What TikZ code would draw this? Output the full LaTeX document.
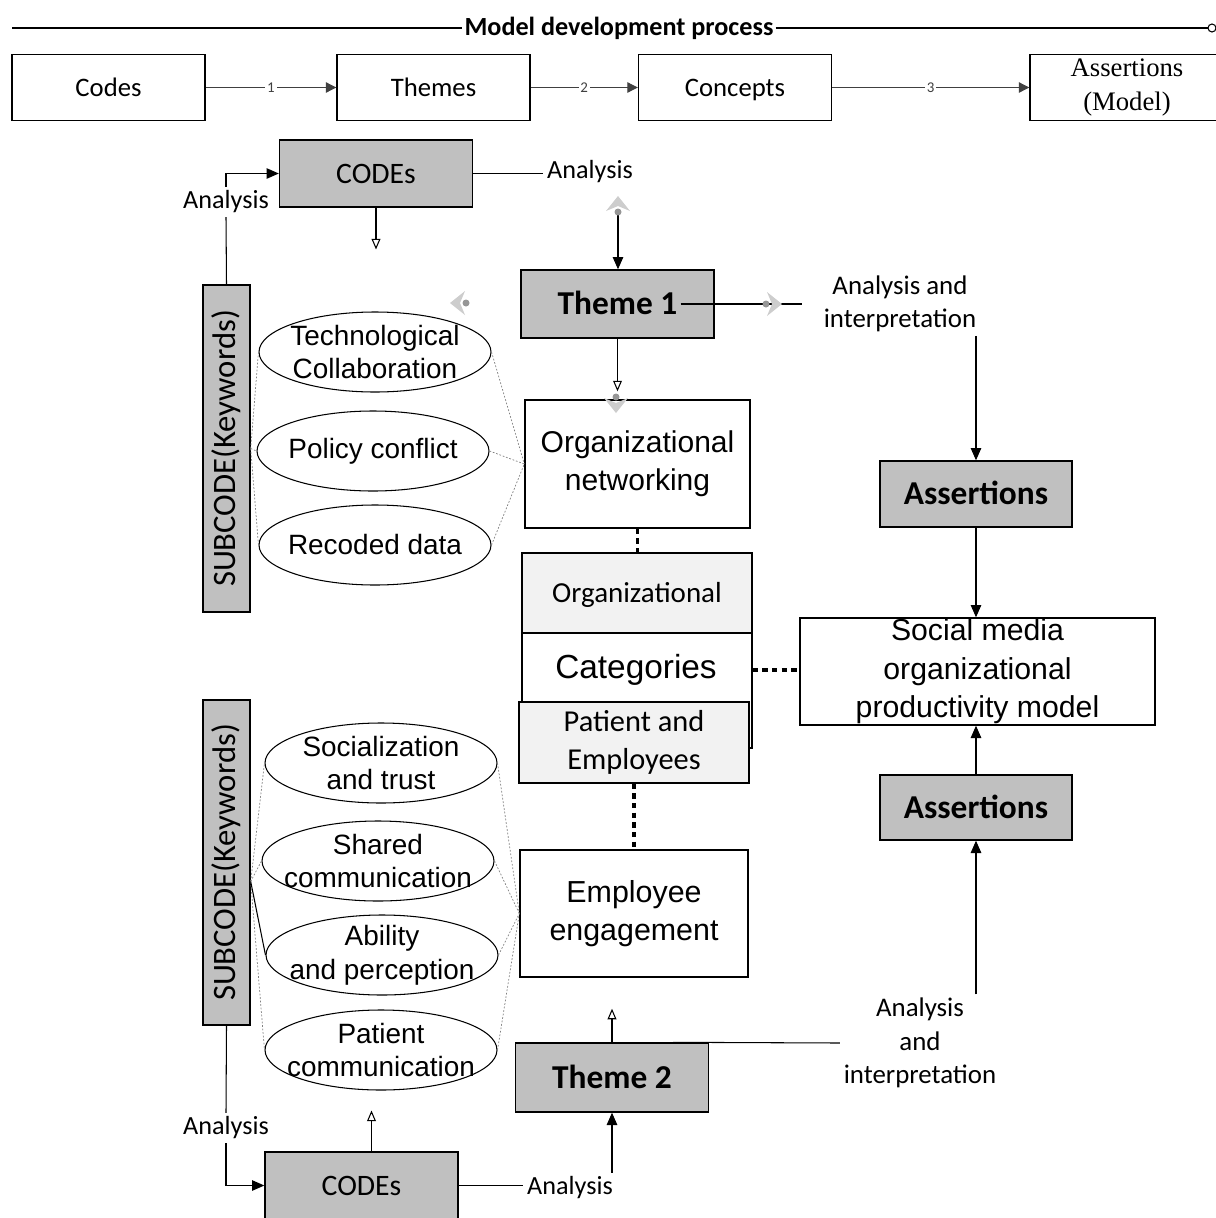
\documentclass[tikz,border=0pt]{standalone}
\usepackage{fontspec}
\setmainfont{Carlito}
\newfontfamily\arialfont{Liberation Sans}
\newfontfamily\timesfont{Liberation Serif}
\usetikzlibrary{arrows.meta,shapes.geometric}
\definecolor{boxgrey}{RGB}{192,192,192}
\definecolor{lightbox}{RGB}{242,242,242}
\definecolor{handlegrey}{RGB}{205,205,205}
\definecolor{handledot}{RGB}{150,150,150}
\newdimen\pxu \pxu=0.02cm
\newcommand\fsz[2]{\fontsize{#1}{#2}\selectfont}
\newcommand\connhandle[2]{\begin{scope}[shift={#1},rotate=#2]
  \fill[handlegrey] (0,0) -- (-15,12) -- (-10,0) -- (-15,-12) -- cycle;
  \fill[handledot] (-16,0) circle (3.5);
\end{scope}}

\begin{document}
\begin{tikzpicture}[x=0.02cm,y=-0.02cm]
\tikzset{box/.style={draw,line width=0.8pt,minimum width=193\pxu,minimum height=66\pxu,inner sep=0pt,align=center}}
\tikzset{greybox/.style={box,fill=boxgrey}}
\tikzset{oneline/.style={text height=#1,text depth=0pt}}
\tikzset{keyword/.style={ellipse,draw,line width=0.6pt,minimum width=232\pxu,minimum height=80\pxu,inner sep=-9pt,align=center,font=\arialfont\fsz{15.9}{19.3}}}
\tikzset{note/.style={inner sep=2pt,align=center,font=\fsz{14.9}{18.8}}}
\tikzset{plain/.style={line width=0.6pt}}
\tikzset{arr/.style={plain,-{Triangle[length=7pt,width=6pt]}}}
\tikzset{openarr/.style={plain,-{Triangle[open,length=6pt,width=5pt]}}}
\tikzset{steparr/.style={line width=0.6pt,black!75,-{Triangle[length=6pt,width=6pt]}}}
\tikzset{stepnum/.style={fill=white,inner sep=1pt,font=\fsz{8.5}{9}}}
\tikzset{link/.style={line width=2.2pt,dash pattern=on 3pt off 2.5pt}}
\tikzset{fan/.style={gray,line width=0.4pt,dash pattern=on 1pt off 1pt}}
\useasboundingbox (0,0) rectangle (1215,1218);

\node[font=\bfseries\fsz{14.9}{18},inner sep=1pt] (proc) at (619,28) {Model development process};
\coordinate (procstart) at (12,28);
\coordinate (procend) at (1208,28);
\draw[line width=0.8pt] (procstart) -- (proc.west) (proc.east) -- (procend);
\draw[line width=0.6pt] (procend) ++(4,0) circle (4);

\node[box,oneline=10pt,font=\fsz{15.2}{19}] (codes) at (108.5,87.5) {Codes};
\node[box,oneline=10pt,font=\fsz{15.2}{19}] (themes) at (433.5,87.5) {Themes};
\node[box,oneline=10pt,font=\fsz{15.2}{19}] (concepts) at (735,87.5) {Concepts};
\node[box,minimum width=194\pxu,font=\timesfont\fsz{15.2}{19.3}] (assertm) at (1127,87.5) {Assertions\\(Model)};
\foreach \a/\b/\n in {codes/themes/1,themes/concepts/2,concepts/assertm/3}
  \draw[steparr] (\a.east) -- node[stepnum]{\n} (\b.west);

\node[greybox,oneline=11.2pt,minimum height=67\pxu,font=\fsz{16.9}{20}] (codesA) at (376,173.5) {CODEs};
\node[note] (anaA) at (590,172) {Analysis};
\node[note] (anaE) at (226,202) {Analysis};
\node[greybox,minimum width=47\pxu,minimum height=327\pxu,font=\fsz{18.6}{20}] (subA) at (226.5,448.5) {\rotatebox{90}{SUBCODE(Keywords)}};
\node[keyword] (techno) at (375,352) {Technological\\Collaboration};
\node[keyword] (policy) at (373,451) {Policy conflict};
\node[keyword] (recoded) at (375,545) {Recoded data};

\node[greybox,oneline=12.5pt,minimum height=68\pxu,font=\bfseries\fsz{19}{22}] (theme1) at (617.5,304) {Theme 1};
\node[note,font=\fsz{15.3}{18.7}] (anaB) at (900,304) {Analysis and\\interpretation};
\node[box,minimum width=225\pxu,minimum height=128\pxu,font=\arialfont\fsz{17.1}{21.5}] (orgnet) at (637.5,464) {Organizational\\networking};
\node[box,oneline=10.9pt,fill=lightbox,minimum width=230\pxu,minimum height=80\pxu,font=\fsz{16.5}{20}] (orgcat) at (637,593) {Organizational};
\node[box,minimum width=230\pxu,minimum height=115\pxu] (categ) at (637,690.5) {};
\node[font=\arialfont\fsz{19}{22}] (categtxt) at (636,670) {Categories};
\node[box,fill=lightbox,minimum width=230\pxu,minimum height=81\pxu,font=\fsz{17.3}{22}] (patemp) at (634,742.5) {Patient and\\Employees};
\node[box,minimum width=228\pxu,minimum height=127\pxu,font=\arialfont\fsz{17.3}{21.5}] (empeng) at (634,913.5) {Employee\\engagement};

\node[greybox,oneline=12.5pt,minimum width=192\pxu,minimum height=66\pxu,font=\bfseries\fsz{19}{22}] (assertA) at (976,494) {Assertions};
\node[box,minimum width=355\pxu,minimum height=107\pxu,font=\arialfont\fsz{17.2}{22}] (social) at (977.5,671.5) {Social media\\organizational\\productivity model};
\node[greybox,oneline=12.5pt,minimum width=192\pxu,minimum height=65\pxu,font=\bfseries\fsz{19}{22}] (assertB) at (976,807.5) {Assertions};

\node[greybox,minimum width=47\pxu,minimum height=325\pxu,font=\fsz{18.6}{20}] (subB) at (226.5,862.5) {\rotatebox{90}{SUBCODE(Keywords)}};
\node[keyword] (socl) at (381,763) {Socialization\\and trust};
\node[keyword] (shared) at (378,861) {Shared\\communication};
\node[keyword] (ability) at (382,955) {Ability\\and perception};
\node[keyword] (patcom) at (381,1050) {Patient\\communication};

\node[greybox,oneline=12.5pt,minimum height=69\pxu,font=\bfseries\fsz{19}{22}] (theme2) at (612,1077.5) {Theme 2};
\node[note,font=\fsz{15.3}{19}] (anaC) at (920,1043) {Analysis\\and\\interpretation};
\node[note] (anaF) at (226,1128) {Analysis};
\node[greybox,oneline=11.2pt,minimum height=67\pxu,font=\fsz{16.9}{20}] (codesB) at (361.5,1185.5) {CODEs};
\node[note] (anaD) at (570,1188) {Analysis};

\draw[plain] (subA.north) -- (anaE.south);
\draw[arr] (anaE.north) |- (codesA.west);
\draw[openarr,shorten >=62\pxu] (codesA.south) -- (codesA.south |- techno.north);
\draw[plain] (codesA.east) -- (codesA.east -| anaA.west);
\coordinate (topdot) at (618,213);
\draw[arr] (topdot) -- (topdot |- theme1.north);
\draw[plain] ([xshift=-34\pxu]theme1.east) -- ([xshift=-18\pxu]anaB.west);
\draw[arr] (anaB.south -| assertA.north) -- (assertA.north);
\draw[openarr,shorten >=8\pxu] (theme1.south) -- (theme1.south |- orgnet.north);

\foreach \k in {techno,policy,recoded}
  \draw[fan] (subA.east) -- (\k.west) (\k.east) -- (orgnet.west);
\coordinate (fanB) at ([yshift=-19\pxu]subB.east);
\foreach \k in {socl,shared,patcom}
  \draw[fan] (fanB) -- (\k.west) (\k.east) -- (empeng.west);
\draw[plain] (fanB) -- (ability.west);
\draw[fan] (ability.east) -- (empeng.west);

\draw[link] (orgnet.south) -- (orgnet.south |- orgcat.north);
\draw[link] (categtxt -| categ.east) -- (categtxt -| social.west);
\draw[link] (patemp.south) -- (patemp.south |- empeng.north);
\draw[arr] (assertA.south) -- (assertA.south |- social.north);
\draw[arr] (assertB.north) -- (assertB.north |- social.south);
\draw[arr] (anaC.north -| assertB.south) -- (assertB.south);
\draw[plain] ([xshift=-36\pxu]theme2.north east) -- (anaC.west);
\draw[openarr,shorten >=31\pxu] (theme2.north) -- (theme2.north |- empeng.south);
\draw[plain] (codesB.east) -- (codesB.east -| anaD.west);
\draw[arr] (anaD.north -| theme2.south) -- (theme2.south);
\draw[openarr,shorten >=20\pxu] ([xshift=10\pxu]codesB.north) -- ([xshift=10\pxu]codesB.north |- patcom.south);
\draw[plain] (subB.south) -- (anaF.north);
\draw[arr] (anaF.south) |- (codesB.west);

\connhandle{(618,196)}{90}
\connhandle{(450,303)}{180}
\connhandle{(782,304)}{0}
\connhandle{(616,413)}{-90}
\end{tikzpicture}
\end{document}
